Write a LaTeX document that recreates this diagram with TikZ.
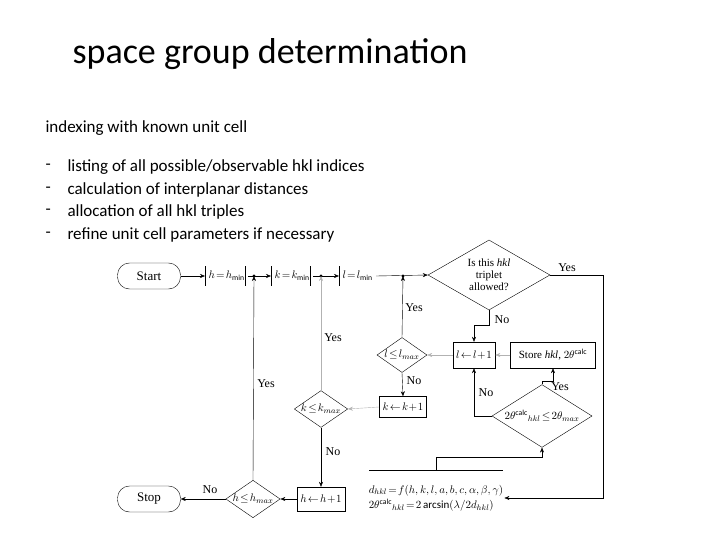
\documentclass[tikz,border=0pt]{standalone}
\usepackage{fontspec}
\setmainfont{Carlito}
\newfontfamily\tms{Liberation Serif}
\usetikzlibrary{shapes.geometric,arrows.meta}
\begin{document}
\begin{tikzpicture}[x=1pt,y=-1pt,
  fc/.style={font=\tms\fontsize{11}{12}\selectfont},
  term/.style={fc,draw,rounded corners=12pt,minimum width=63pt,minimum height=26pt,font=\tms\fontsize{13}{14}\selectfont},
  dia/.style={fc,draw,diamond,aspect=1.45,inner sep=0pt},
  con/.style={-{Stealth[length=5pt,width=4pt]}},
  gcon/.style={con,gray!60},
  lab/.style={fc,font=\tms\fontsize{12}{13}\selectfont},
  txt/.style={anchor=west,font=\fontsize{17}{19}\selectfont}]
\useasboundingbox (0,0) rectangle (720,540);
\node[anchor=west,font=\fontsize{36}{40}\selectfont] (title) at (69,54) {space group determination};
\node[txt] (sub) at (42,128) {indexing with known unit cell};
\foreach \y/\t [count=\i] in {167/{listing of all possible/observable hkl indices},190/{calculation of interplanar distances},212/{allocation of all hkl triples},235/{refine unit cell parameters if necessary}}{
  \node[txt] (d\i) at (42,\y) {-};
  \node[txt] (b\i) at (64,\y) {\t};}
% nodes
\node[term] (start) at (149,276) {Start};
\node[term] (stop) at (149,499) {Stop};
\node[fc,anchor=west] (hmin) at (205,276) {$h\!=\!h_{\mathrm{min}}$};
\node[fc,anchor=west] (kmin) at (271,276) {$k\!=\!k_{\mathrm{min}}$};
\node[fc,anchor=west] (lmin) at (339,276) {$l\!=\!l_{\mathrm{min}}$};
\coordinate (dh) at (254,276);
\coordinate (dk) at (321,276);
\coordinate (dl) at (403,276);
\fill (dh) circle (1.6pt) (dk) circle (1.6pt) (dl) circle (1.6pt);
\draw (205,266)--(205,286) (245,266)--(245,286) (271,266)--(271,286) (310,266)--(310,286) (339,266)--(339,286);
\node[dia,minimum width=122pt,minimum height=70pt,align=center] (q1) at (489,275) {Is this \textit{hkl}\\triplet\\allowed?};
\node[fc,draw,minimum width=38pt,minimum height=26pt] (linc) at (474,355) {$l\!\leftarrow\! l\!+\!1$};
\node[fc,draw,minimum width=85pt,minimum height=26pt] (store) at (553,355) {Store \textit{hkl}, $2\theta^{\mathrm{calc}}$};
\node[dia,minimum width=100pt,minimum height=50pt] (q2) at (542,416) {$2\theta^{\mathrm{calc}}{}_{hkl}\!\le\!2\theta_{max}$};
\node[dia,minimum width=50pt,minimum height=35pt] (ql) at (402,355) {$l\!\le\! l_{max}$};
\node[fc,draw,minimum width=40pt,minimum height=21pt] (kinc) at (403,407) {$k\!\leftarrow\! k\!+\!1$};
\node[dia,minimum width=52pt,minimum height=35pt] (qk) at (321,409) {$k\!\le\! k_{max}$};
\node[fc,draw,minimum width=37pt,minimum height=24pt] (hinc) at (321,499) {$h\!\leftarrow\! h\!+\!1$};
\node[dia,minimum width=49pt,minimum height=35pt] (qh) at (253,499) {$h\!\le\! h_{max}$};
\node[fc,align=left,inner sep=1pt] (calc) at (436,498) {$d_{hkl}\!=\!f(h,k,l,a,b,c,\alpha,\beta,\gamma)$\\[2pt]$2\theta^{\mathrm{calc}}{}_{hkl}\!=\!2\arcsin(\lambda/2d_{hkl})$};
\draw (369,470) -- (503,470);
\coordinate (ct) at (436,470);
% connectors
\draw[con] (start) -- (hmin);
\draw[con] (hmin.east) -- (kmin.west);
\draw[con] (kmin.east) -- (lmin.west);
\draw[con] (lmin.east) -- (q1.west);
\draw[con] (q1.east) -- (603,275) |- (calc.east);
\node[lab] (y1) at (567,268) {Yes};
\draw[con] (q1.south) -- (489,325) -| (linc.north -| 474,342);
\node[lab] (n1) at (502,320) {No};
\draw[con] (ct) -- (436,457) -| (q2.south);
\draw[con] (q2.north) -- (542,381) -| (store.south);
\node[lab] (y2) at (560,387) {Yes};
\draw[con] (q2.west) -| (linc.south);
\node[lab] (n2) at (486,393) {No};
\draw[gcon] (store.west) -- (linc.east);
\draw[gcon] (linc.west) -- (ql.east);
\draw[con] (ql.north) -- (dl);
\node[lab] (y3) at (414,308) {Yes};
\draw[con] (ql.south) -- (kinc.north);
\node[lab] (n3) at (414,381) {No};
\draw[gcon] (kinc.west) -- (qk.east);
\draw[con,gray!60] (qk.north) -- (dk);
\node[lab] (y4) at (333,338) {Yes};
\draw[con] (qk.south) -- (hinc.north);
\node[lab] (n4) at (333,452) {No};
\draw[con] (hinc.west) -- (qh.east);
\draw[con] (qh.north) -- (dh);
\node[lab] (y5) at (266,384) {Yes};
\draw[con] (qh.west) -- (stop.east);
\node[lab] (n5) at (210,490) {No};
\end{tikzpicture}
\end{document}
